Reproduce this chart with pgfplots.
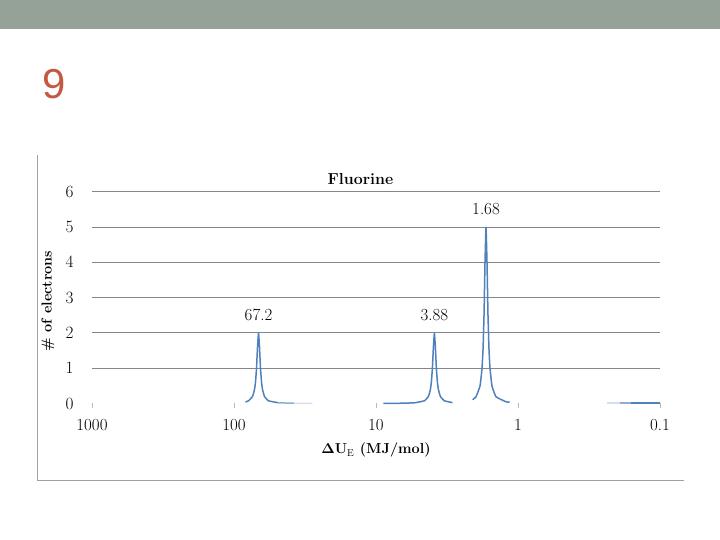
\documentclass[border=0pt]{standalone}
\usepackage{pgfplots}
\pgfplotsset{compat=1.18}
\usepackage[no-math]{fontspec}
\newfontfamily\slidefont{Liberation Sans}
\definecolor{barcol}{RGB}{148,162,152}
\definecolor{numcol}{RGB}{196,89,66}
\definecolor{ser}{RGB}{79,129,189}
\definecolor{gridc}{RGB}{134,134,134}
\definecolor{framec}{RGB}{160,160,160}
\begin{document}
\begin{tikzpicture}
\path[use as bounding box] (0,0) rectangle (720bp,540bp);
\fill[white] (0,0) rectangle (720bp,540bp);
\fill[barcol] (0,511bp) rectangle (720bp,540bp);
\node[anchor=base west, inner sep=0pt, text=numcol, font=\slidefont\fontsize{42}{48}\selectfont] at (42bp,441bp) {9};
\draw[framec, line width=0.8bp] (37bp,385bp) -- (37bp,60bp) -- (684bp,60bp);
\node[anchor=base, inner sep=0pt, font=\bfseries\fontsize{16}{19}\selectfont] at (360.5bp,355bp) {Fluorine};
\node[rotate=90, anchor=center, inner sep=0pt, font=\bfseries\fontsize{14.5}{17}\selectfont] at (48bp,239bp) {\# of electrons};
\node[anchor=base, inner sep=0pt, font=\bfseries\fontsize{14.5}{17}\selectfont] at (376bp,86bp) {$\mathbf{\Delta U_{\mathrm{E}}}$ (MJ/mol)};
\begin{axis}[
  at={(376bp,242.4bp)}, anchor=center,
  scale only axis, width=568bp, height=211.8bp,
  xmode=log, x dir=reverse,
  xmin=0.1, xmax=1000, ymin=0, ymax=6,
  clip=false,
  axis line style={draw=none},
  xtick={0.1,1,10,100,1000},
  xticklabels={0.1,1,10,100,1000},
  xminorticks=false,
  xtick pos=bottom,
  ytick={1,2,3,4,5,6},
  extra y ticks={0},
  extra y tick style={grid=none},
  ymajorgrids,
  grid style={gridc, line width=0.8bp},
  ytick style={draw=none},
  xtick style={gray!55, line width=0.6bp},
  tick align=outside,
  major tick length=5bp,
  xticklabel style={font=\fontsize{17}{20}\selectfont, yshift=-7bp},
  yticklabel style={font=\fontsize{16}{19}\selectfont, xshift=-10bp},
]
% peak at 67.2
\addplot[ser, line width=1.5bp, smooth, tension=0.2] coordinates {
(83.05,0.0425) (78.95,0.077) (74.02,0.2) (71.68,0.4) (70.53,0.615) (69.40,1.0) (68.29,1.6) (67.2,2) (66.13,1.6) (65.07,1.0) (64.03,0.615) (63.00,0.4) (61.01,0.2) (57.20,0.077) (48.68,0.0198)};
\addplot[ser!65!white, line width=1.5bp] coordinates {(48.68,0.0198) (37.79,0.0063)};
\addplot[ser!25!white, line width=1.5bp] coordinates {(37.79,0.0063) (28.01,0.0027)};
% peak at 3.88
\addplot[ser, line width=1.5bp, smooth, tension=0.2] coordinates {
(8.89,0.003) (6.90,0.0063) (5.356,0.0198) (4.559,0.077) (4.274,0.2) (4.138,0.4) (4.072,0.615) (4.007,1.0) (3.943,1.6) (3.88,2) (3.818,1.6) (3.757,1.0) (3.697,0.615) (3.638,0.4) (3.522,0.2) (3.302,0.077) (2.896,0.024)};
% peak at 1.68
\addplot[ser, line width=1.5bp, smooth, tension=0.2] coordinates {
(2.086,0.108) (1.974,0.192) (1.8506,0.5) (1.7919,1.0) (1.7632,1.538) (1.7350,2.5) (1.7073,4.0) (1.68,5) (1.6531,4.0) (1.6267,2.5) (1.6007,1.538) (1.5751,1.0) (1.5251,0.5) (1.4299,0.192) (1.2171,0.0495) (1.144,0.035)};
% low tail toward 0.1
\addplot[ser!25!white, line width=1.5bp] coordinates {(0.236,0.012) (0.19,0.012)};
\addplot[ser!65!white, line width=1.5bp] coordinates {(0.19,0.012) (0.16,0.012)};
\addplot[ser, line width=1.5bp] coordinates {(0.16,0.012) (0.1,0.012)};
% data labels
\node[anchor=base, inner sep=0pt, font=\fontsize{17}{20}\selectfont, yshift=12bp] at (axis cs:67.2,2) {67.2};
\node[anchor=base, inner sep=0pt, font=\fontsize{17}{20}\selectfont, yshift=12bp] at (axis cs:3.88,2) {3.88};
\node[anchor=base, inner sep=0pt, font=\fontsize{17}{20}\selectfont, yshift=12.5bp] at (axis cs:1.68,5) {1.68};
\end{axis}
\end{tikzpicture}
\end{document}
